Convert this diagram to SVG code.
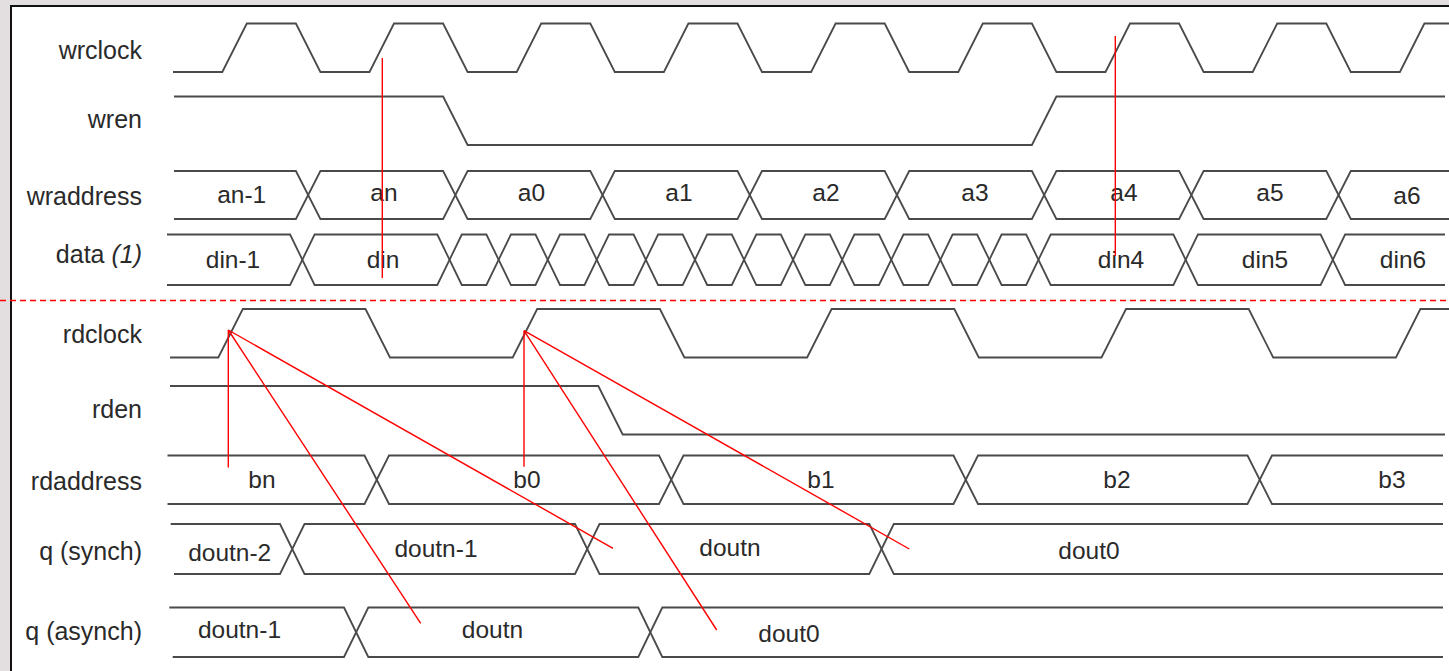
<svg xmlns="http://www.w3.org/2000/svg" width="1449" height="671" viewBox="0 0 1449 671">
<style>
.sig{fill:none;stroke:#4a4a4a;stroke-width:1.8;stroke-linejoin:miter}
.lbl{font-family:"Liberation Sans",Arial,sans-serif;font-size:25px;fill:#2a2a2a;text-anchor:end}
.val{font-family:"Liberation Sans",Arial,sans-serif;font-size:24.5px;fill:#2a2a2a;text-anchor:middle}
.red{fill:none;stroke:#f00;stroke-width:1.4}
</style>
<rect x="0" y="0" width="1449" height="671" fill="#e3dfe1"/>
<rect x="11" y="6" width="1460" height="700" fill="#ffffff" stroke="#111" stroke-width="2"/>
<line x1="0" y1="300.5" x2="1449" y2="300.5" stroke="#f00" stroke-width="1.5" stroke-dasharray="6 4"/>

<g id="wrclock">
<text class="lbl" x="142" y="59">wrclock</text>
<path class="sig" d="M173,72 H222.3 L246.8,23.5 H295.9 L320.4,72 H369.5 L394,23.5 H443.1 L467.6,72 H516.7 L541.2,23.5 H590.3 L614.8,72 H663.9 L688.4,23.5 H737.5 L762,72 H811.1 L835.6,23.5 H884.7 L909.2,72 H958.3 L982.8,23.5 H1031.9 L1056.4,72 H1105.5 L1130,23.5 H1179.1 L1203.6,72 H1252.7 L1277.2,23.5 H1326.3 L1350.8,72 H1399.9 L1424.4,23.5 H1449"/>
</g>

<g id="wren">
<text class="lbl" x="142" y="128">wren</text>
<path class="sig" d="M174,96.5 H443.1 L467.6,145 H1031.9 L1056.4,96.5 H1445"/>
</g>

<g id="wraddress">
<text class="lbl" x="142" y="205">wraddress</text>
<path class="sig" d="M174,171 H295.9 L320.4,219 H443.1 L467.6,171 H590.3 L614.8,219 H737.5 L762,171 H884.7 L909.2,219 H1031.9 L1056.4,171 H1179.1 L1203.6,219 H1326.3 L1350.8,171 H1449"/>
<path class="sig" d="M174,219 H295.9 L320.4,171 H443.1 L467.6,219 H590.3 L614.8,171 H737.5 L762,219 H884.7 L909.2,171 H1031.9 L1056.4,219 H1179.1 L1203.6,171 H1326.3 L1350.8,219 H1449"/>
<text class="val" x="241.7" y="203">an-1</text>
<text class="val" x="384" y="201">an</text>
<text class="val" x="531.5" y="201">a0</text>
<text class="val" x="679" y="201">a1</text>
<text class="val" x="826" y="201">a2</text>
<text class="val" x="975" y="201">a3</text>
<text class="val" x="1124" y="201">a4</text>
<text class="val" x="1270" y="201">a5</text>
<text class="val" x="1407" y="204">a6</text>
</g>

<g id="data">
<text class="lbl" x="142" y="263">data <tspan font-style="italic">(1)</tspan></text>
<path class="sig" d="M167,234.5 H290.1 L314.6,285 H437.3 L461.8,234.5 H486.4 L510.9,285 H535.5 L560,234.5 H584.5 L609,285 H633.6 L658.1,234.5 H682.7 L707.2,285 H731.8 L756.3,234.5 H780.8 L805.3,285 H829.9 L854.4,234.5 H879 L903.5,285 H928.1 L952.6,234.5 H977.1 L1001.6,285 H1026.2 L1050.7,234.5 H1173.4 L1197.9,285 H1320.6 L1345.1,234.5 H1445"/>
<path class="sig" d="M167,285 H290.1 L314.6,234.5 H437.3 L461.8,285 H486.4 L510.9,234.5 H535.5 L560,285 H584.5 L609,234.5 H633.6 L658.1,285 H682.7 L707.2,234.5 H731.8 L756.3,285 H780.8 L805.3,234.5 H829.9 L854.4,285 H879 L903.5,234.5 H928.1 L952.6,285 H977.1 L1001.6,234.5 H1026.2 L1050.7,285 H1173.4 L1197.9,234.5 H1320.6 L1345.1,285 H1445"/>
<text class="val" x="233" y="268">din-1</text>
<text class="val" x="383" y="268">din</text>
<text class="val" x="1121" y="268">din4</text>
<text class="val" x="1265" y="268">din5</text>
<text class="val" x="1403" y="268">din6</text>
</g>

<g id="rdclock">
<text class="lbl" x="142" y="343">rdclock</text>
<path class="sig" d="M170,357.5 H218.3 L242.8,309 H365.5 L390,357.5 H512.7 L537.2,309 H659.9 L684.4,357.5 H807.1 L831.6,309 H954.3 L978.8,357.5 H1101.5 L1126,309 H1248.7 L1273.2,357.5 H1395.9 L1420.4,309 H1449"/>
</g>

<g id="rden">
<text class="lbl" x="142" y="418">rden</text>
<path class="sig" d="M170,386 H598.3 L622.7,434.5 H1445"/>
</g>

<g id="rdaddress">
<text class="lbl" x="142" y="490">rdaddress</text>
<path class="sig" d="M167.5,455.5 H364.5 L389,504 H659 L683.5,455.5 H953.5 L978,504 H1247.5 L1272,455.5 H1443"/>
<path class="sig" d="M167.5,504 H364.5 L389,455.5 H659 L683.5,504 H953.5 L978,455.5 H1247.5 L1272,504 H1443"/>
<text class="val" x="262" y="488">bn</text>
<text class="val" x="527" y="488">b0</text>
<text class="val" x="821" y="488">b1</text>
<text class="val" x="1117" y="488">b2</text>
<text class="val" x="1392" y="488">b3</text>
</g>

<g id="q_synch">
<text class="lbl" x="142" y="560">q (synch)</text>
<path class="sig" d="M170.7,524 H280 L304.5,574 H575 L599.5,524 H869.3 L893.8,574 H1443"/>
<path class="sig" d="M174,574 H280 L304.5,524 H575 L599.5,574 H869.3 L893.8,524 H1443"/>
<text class="val" x="229.7" y="561">doutn-2</text>
<text class="val" x="436" y="557">doutn-1</text>
<text class="val" x="730" y="556">doutn</text>
<text class="val" x="1089" y="559">dout0</text>
</g>

<g id="q_asynch">
<text class="lbl" x="142" y="640">q (asynch)</text>
<path class="sig" d="M169.3,607.5 H344 L368.3,657 H638.3 L662.3,607.5 H1443"/>
<path class="sig" d="M172.7,657 H344 L368.3,607.5 H638.3 L662.3,657 H1443"/>
<text class="val" x="239.5" y="638">doutn-1</text>
<text class="val" x="492.5" y="638">doutn</text>
<text class="val" x="789" y="641.5">dout0</text>
</g>

<g id="connectors">
<line class="red" x1="382.3" y1="58" x2="382.3" y2="278"/>
<line class="red" x1="1115.3" y1="36" x2="1115.3" y2="256"/>
<line class="red" x1="228.3" y1="330" x2="228.3" y2="467.5"/>
<line class="red" x1="228.3" y1="330" x2="613" y2="548.3"/>
<line class="red" x1="228.3" y1="330" x2="420.7" y2="623.3"/>
<line class="red" x1="524" y1="330.7" x2="524" y2="466.7"/>
<line class="red" x1="524" y1="330.7" x2="909.3" y2="549"/>
<line class="red" x1="524" y1="330.7" x2="716.7" y2="630"/>
</g>
</svg>
